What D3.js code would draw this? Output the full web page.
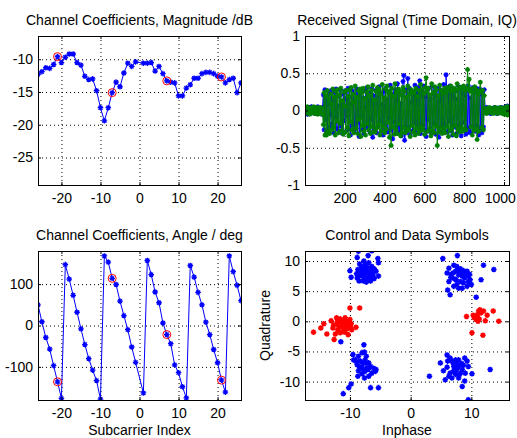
<!DOCTYPE html>
<html>
<head>
<meta charset="utf-8">
<script src="https://cdn.jsdelivr.net/npm/d3@7"></script>
<style>
  body { margin: 0; background: #fff; }
  svg { display: block; }
</style>
</head>
<body>
<svg id="chart" width="517" height="438"></svg>
<script>
// ---- data ----
const subcarriers = [
  -26, -25, -24, -23, -22, -21, -20, -19, -18, -17, -16, -15, -14, -13, -12, -11, -10, -9, -8, -7, -6, -5, -4, -3, -2, -1,
  1, 2, 3, 4, 5, 6, 7, 8, 9, 10, 11, 12, 13, 14, 15, 16, 17, 18, 19, 20, 21, 22, 23, 24, 25, 26
];
const pilotCarriers = [-21, -7, 7, 21];

const magnitudeDb = [
  -12.3, -11.9, -11.3, -11.4, -10.8, -9.6, -10.5, -9.7, -9.2, -9.2, -10.5, -10.9, -12.6, -13.1, -13.0, -14.8, -17.4, -19.4, -17.4, -15.1, -13.5, -14.2, -12.1, -10.6, -11.1, -10.4,
  -10.6, -10.6, -10.5, -11.8, -11.1, -12.2, -13.3, -13.5, -13.6, -15.6, -15.6, -14.4, -13.9, -12.9, -12.9, -12.2, -12.0, -12.0, -12.2, -12.6, -12.7, -13.6, -13.1, -12.9, -15.1, -13.6
];

const angleDeg = [
  50, 9, -29, -57, -97, -136, -176, 147, 112, 73, 32, -8, -46, -80, -108, -133, -178, 168, 153, 114, 99, 59, 24, -10, -52, -89,
  -163, 157, 123, 81, 55, 6, -22, -44, -95, -114, -148, -175, 145, 117, 80, 50, 8, -22, -58, -90, -132, -161, 168, 130, 97, 60
];

// time domain samples, every 4th sample (index 1, 5, 9, ... 1025)
const sampleStep = 4;
const signalI = [
  // quiet start
  0.03, -0.04, 0.02, -0.05, 0.04, -0.01, 0.03, -0.04, 0.05, -0.02, 0.03, -0.03, 0.01, -0.04, 0.04, -0.02, 0.05, -0.03, 0.02, -0.04, 0.03, -0.05, 0.04,
  // burst
  0.21, -0.26, 0.28, -0.12, 0.17, -0.29, 0.08, 0.25, -0.22, -0.05,
  0.27, -0.18, 0.13, -0.30, 0.24, -0.09, 0.29, -0.24, 0.06, -0.27,
  0.19, 0.28, -0.21, 0.11, -0.31, 0.22, -0.14, 0.26, -0.28, 0.15,
  -0.07, 0.30, -0.25, 0.18, -0.33, 0.09, 0.27, -0.20, 0.23, -0.29,
  0.12, -0.24, 0.29, -0.16, 0.21, -0.35, 0.25, -0.08, 0.28, -0.26,
  0.17, -0.31, 0.04, 0.26, -0.23, 0.31, -0.19, 0.14, -0.28, 0.24,
  -0.12, 0.29, -0.36, 0.20, -0.25, 0.10, 0.27, -0.30, 0.18, -0.21,
  0.32, -0.14, 0.23, -0.27, 0.08, -0.33, 0.26, -0.18, 0.30, -0.24,
  0.15, -0.29, 0.24, -0.10, 0.34, -0.26, 0.19, -0.38, 0.22, -0.15,
  0.28, -0.31, 0.13, 0.36, -0.22, 0.26, -0.28, 0.09, -0.34, 0.21,
  0.39, 0.47, -0.40, -0.30, 0.28, -0.30, 0.43, -0.22, 0.30, -0.33,
  0.11, 0.26, -0.27, 0.20, -0.16, 0.34, -0.29, 0.24, -0.19, 0.31,
  -0.23, 0.40, -0.31, 0.27, 0.20, -0.20, 0.33, -0.26, 0.18, -0.35,
  0.25, -0.12, 0.29, -0.28, 0.16, -0.24, 0.32, -0.30, 0.22, -0.17,
  0.27, -0.32, 0.19, -0.21, 0.30, -0.36, 0.12, 0.28, -0.26, 0.23,
  -0.30, 0.35, -0.18, -0.28, 0.48, 0.27, -0.29, 0.21, -0.14, 0.33,
  -0.27, 0.24, -0.33, 0.18, 0.29, -0.22, 0.26, -0.31, 0.15, -0.25,
  0.32, -0.19, 0.28, -0.34, 0.23, -0.16, 0.30, -0.27, 0.20, -0.32,
  0.26, -0.23, 0.33, -0.29, 0.17, -0.30, 0.27, -0.21, 0.31, -0.26,
  0.24, -0.28, 0.30, -0.20, 0.25, -0.33, 0.29, -0.24, 0.22, -0.30,
  0.27, -0.22, 0.28,
  // quiet end
  0.02, -0.03, 0.04, -0.02, 0.01, -0.03, 0.03, -0.04, 0.02, -0.02, 0.03, -0.01, 0.04, -0.03, 0.02, -0.04,
  0.03, -0.02, 0.01, -0.03, 0.04, -0.02, 0.03, -0.03, 0.02, -0.04, 0.05, -0.03, 0.06, -0.05, 0.04
];
const signalQ = [
  -0.02, 0.04, -0.03, 0.05, -0.04, 0.02, -0.05, 0.03, -0.02, 0.04, -0.03, 0.05, -0.04, 0.02, -0.03, 0.04, -0.05, 0.03, -0.02, 0.04, -0.04, 0.03, -0.05,
  -0.19, 0.24, -0.33, 0.20, -0.33, 0.27, -0.28, 0.16, -0.31, 0.22,
  0.09, -0.26, 0.29, -0.22, 0.18, -0.33, 0.26, -0.14, 0.28, -0.30,
  0.21, -0.17, 0.30, -0.27, 0.13, -0.32, 0.25, 0.06, -0.29, 0.27,
  -0.23, 0.19, -0.34, 0.28, -0.15, 0.31, -0.26, 0.22, -0.30, 0.11,
  0.33, -0.24, 0.18, -0.31, 0.27, -0.12, 0.29, -0.35, 0.24, -0.20,
  0.30, -0.28, 0.16, -0.33, 0.25, -0.18, 0.32, -0.26, 0.20, -0.31,
  0.27, -0.22, 0.34, -0.29, 0.14, -0.29, 0.26, -0.24, 0.31, -0.19,
  0.28, -0.33, 0.22, -0.27, 0.35, -0.21, 0.17, -0.30, 0.29, -0.25,
  0.33, -0.16, 0.26, -0.36, 0.23, -0.47, 0.30, -0.22, 0.19, -0.32,
  0.36, -0.26, 0.24, -0.31, 0.29, -0.18, 0.27, -0.34, 0.21, -0.29,
  0.31, -0.23, 0.26, -0.30, 0.18, -0.27, 0.33, -0.25, 0.22, -0.35,
  0.28, -0.20, 0.24, -0.29, 0.25, -0.33, 0.30, -0.24, 0.19, -0.31,
  0.27, -0.28, 0.35, -0.22, 0.29, -0.26, 0.23, -0.32, 0.31, 0.44,
  0.26, -0.28, 0.30, -0.25, 0.21, -0.34, 0.36, -0.27, 0.24, -0.30,
  0.32, -0.21, 0.28, -0.47, 0.20, -0.29, 0.34, -0.24, 0.27, -0.31,
  0.23, -0.26, 0.30, -0.30, 0.25, -0.22, 0.31, -0.35, 0.29, -0.27,
  0.33, -0.24, 0.26, -0.32, 0.30, -0.20, 0.28, -0.34, 0.36, -0.25,
  0.29, -0.29, 0.31, -0.23, 0.31, -0.28, 0.33, -0.26, 0.27, -0.26,
  0.30, 0.55, 0.28, 0.42, 0.26, -0.22, 0.29, -0.33, 0.24, -0.27,
  0.32, -0.25, 0.28, -0.39, 0.22, -0.28, 0.26, 0.38, 0.25, -0.23,
  0.27, -0.26, 0.20,
  -0.03, 0.02, -0.04, 0.03, -0.02, 0.04, -0.01, 0.03, -0.03, 0.02, -0.04, 0.03, -0.02, 0.04, -0.03, 0.01,
  -0.04, 0.03, -0.02, 0.04, -0.03, 0.02, -0.04, 0.03, -0.05, 0.04, -0.03, 0.05, -0.06, 0.05, -0.04
];

// control symbols (red) and data symbols (blue)
const controlI = [
  -16.0, -14.8, -14.3, -13.8, -13.1, -12.8, -12.6, -12.4, -12.2, -12.0, -11.8, -11.7, -11.6, -11.3, -11.1, -11.0, -10.9, -10.8, -10.6,
  -10.5, -10.3, -10.2, -10.0, -10.0, -9.9, -9.8, -9.7, -9.0, -8.4, -12.7, -12.1, -12.0, -10.8, -10.4, -11.1, -11.6, -11.4, -10.9,
  9.2, 10.1, 10.3, 10.5, 10.8, 10.9, 11.1, 11.2, 11.4, 11.6, 11.9, 12.0, 12.3, 12.6, 13.6, 14.5, 11.3, 11.0
];
const controlQ = [
  -1.8, -1.1, -0.4, -2.1, 0.1, -1.1, -3.0, -2.1, 0.6, -0.6, 0.0, -1.0, 0.4, -0.6, -0.3, -1.1, 0.1, -1.8, -0.8,
  -0.1, -2.2, -0.6, 2.2, 0.3, -1.0, -0.4, -1.4, -1.0, 2.2, -0.6, -0.1, -1.4, 0.6, -1.2, -1.7, -1.9, -0.1, -0.8,
  0.8, -1.9, 1.0, 0.6, 0.3, 0.7, 0.0, 1.7, 1.9, 1.4, -2.3, 1.7, 0.1, 1.0, 1.7, 0.0, 0.4, 1.1
];
const dataI = [
  -8.6, -6.4, -8.8, -7.0, -5.4, -5.3, -7.7, -8.4, -7.5, -6.9, -6.4, -6.0, -8.0, -8.7, -8.3, -7.7, -7.2, -6.6, -6.2, -5.7,
  -5.3, -8.6, -8.0, -7.5, -6.9, -6.4, -7.8, -7.3, -6.6, -6.0, -10.0, -9.8, -8.8, -8.2, -7.5, -6.9, -7.6, -8.5,
  -7.9, -7.2, -6.8, -8.1, -7.4, -6.5, -8.4, -7.0, -7.6, -6.3, -8.9, -7.1,
  -7.7, -9.5, -9.1, -8.6, -8.0, -7.6, -8.3, -7.5, -6.9, -8.8, -8.0, -7.2, -6.6, -6.1, -5.7, -6.4, -7.5, -8.0, -8.6, -6.9,
  -7.6, -9.8, -10.2, -11.1, -6.6, -5.3, -9.4, -7.3, -5.8, -8.7, -11.5,
  -7.9, -8.4, -7.0, -7.8, -8.9, -7.3,
  5.3, 7.7, 12.0, 13.7, 11.6, 10.8, 6.3, 7.1, 7.6, 8.2, 8.7, 9.3, 9.5, 6.0, 6.7, 7.4, 7.9, 8.5, 8.9, 9.5,
  10.0, 6.8, 7.5, 8.2, 8.7, 6.3, 7.1, 6.5, 6.1, 7.6, 9.3, 7.9, 8.5, 9.8, 9.7,
  7.0, 7.8, 8.3, 6.6, 7.3, 8.0, 8.8,
  6.0, 6.5, 4.9, 5.4, 6.1, 6.8, 7.4, 7.9, 8.2, 8.9, 9.3, 9.5, 7.1, 7.6, 8.5, 9.0, 7.4, 7.9, 6.5, 6.8,
  5.7, 8.9, 8.5, 9.5, 3.1, 10.1, 13.1, 7.6, 8.2, 7.1, 6.0, 8.7, 6.3,
  7.0, 7.8, 8.4, 7.3, 8.0
];
const dataQ = [
  11.6, 11.7, 10.6, 10.9, 10.4, 9.7, 10.0, 9.5, 9.3, 9.7, 9.1, 8.7, 8.8, 8.6, 8.2, 8.4, 8.3, 8.0, 7.7, 8.3,
  7.5, 7.6, 7.5, 7.2, 7.5, 7.2, 6.7, 6.5, 6.7, 7.1, 8.4, 7.3, 7.2, 7.8, 7.8, 8.8, 8.9, 6.7,
  8.0, 8.9, 7.8, 9.1, 7.6, 8.5, 7.9, 8.1, 8.5, 8.2, 7.9, 7.0,
  -3.9, -5.5, -6.4, -5.8, -5.2, -5.1, -6.6, -6.4, -6.9, -7.2, -7.6, -7.7, -7.5, -7.8, -8.0, -8.6, -8.3, -8.7, -8.2, -9.1,
  -9.4, -10.4, -11.0, -12.0, -11.0, -11.0, -6.4, -5.8, -8.3, -9.1, -3.4,
  -7.0, -7.6, -8.0, -8.0, -6.8, -6.9,
  10.4, 10.9, 9.3, 8.6, 6.9, 4.0, 8.8, 9.3, 9.1, 8.7, 8.4, 8.3, 7.5, 8.0, 7.8, 8.3, 7.7, 7.5, 7.2, 6.6,
  6.1, 7.2, 6.9, 6.6, 6.4, 6.6, 5.8, 4.4, 5.2, 6.1, 5.8, 5.5, 5.5, 6.9, 7.8,
  8.0, 8.6, 7.9, 7.3, 7.0, 8.1, 7.9,
  -5.6, -6.1, -6.9, -8.2, -6.6, -6.6, -6.4, -6.4, -7.2, -6.1, -6.6, -7.5, -7.5, -8.0, -8.0, -8.6, -8.8, -9.4, -8.6, -9.4,
  -9.7, -9.9, -10.8, -13.0, -9.1, -8.7, -8.0, -7.1, -8.6, -8.2, -7.6, -7.3, -9.1,
  -6.9, -7.6, -7.0, -8.4, -8.9
];

// axis ticks
const carrierTicks = [-20, -10, 0, 10, 20];
const magTicks = [-25, -20, -15, -10];
const angleTicks = [-100, 0, 100];
const sampleTicks = [200, 400, 600, 800, 1000];
const ampTicks = [-1, -0.5, 0, 0.5, 1];
const iqTicksX = [-10, 0, 10];
const iqTicksY = [-10, -5, 0, 5, 10];

// ---- drawing ----
const FONT = '"Liberation Sans", Arial, Helvetica, sans-serif';
const FONT_SIZE = 14;
const COLS = [[38, 241], [305, 509]];
const ROWS = [[36, 185], [251, 400]];
const BLUE = '#0000ff', GREEN = '#008000', RED = '#ff0000';

const svg = d3.select('#chart');
svg.append('rect').attr('width', 517).attr('height', 438).attr('fill', '#fff');
const defs = svg.append('defs');
let clipCount = 0;

function asterisk(r) {
  const s = r * 0.7;
  return `M${-r},0H${r}M0,${-r}V${r}M${-s},${-s}L${s},${s}M${-s},${s}L${s},${-s}`;
}

function panel(col, row, xDomain, yDomain, xTicks, yTicks) {
  const [x0, x1] = COLS[col];
  const [y0, y1] = ROWS[row];
  const x = d3.scaleLinear().domain(xDomain).range([x0, x1]);
  const y = d3.scaleLinear().domain(yDomain).range([y1, y0]);
  const g = svg.append('g');

  // dotted grid under the data
  g.append('g')
    .attr('transform', `translate(0,${y1})`)
    .call(d3.axisBottom(x).tickValues(xTicks).tickSize(-(y1 - y0)).tickFormat(''))
    .call(a => a.select('.domain').remove())
    .selectAll('line')
    .attr('stroke', '#000')
    .attr('stroke-dasharray', '1,3');

  g.append('g')
    .attr('transform', `translate(${x0},0)`)
    .call(d3.axisLeft(y).tickValues(yTicks).tickSize(-(x1 - x0)).tickFormat(''))
    .call(a => a.select('.domain').remove())
    .selectAll('line')
    .attr('stroke', '#000')
    .attr('stroke-dasharray', '1,3');

  const clipId = `clip${clipCount++}`;
  defs.append('clipPath').attr('id', clipId)
    .append('rect')
    .attr('x', x0).attr('y', y0)
    .attr('width', x1 - x0 + 1).attr('height', y1 - y0 + 1);

  const plot = g.append('g').attr('clip-path', `url(#${clipId})`);
  return { x, y, g, plot, x0, x1, y0, y1, xTicks, yTicks };
}

function frame(p, title) {
  const fmt = d => String(d);
  const styleAxis = a => {
    a.select('.domain').remove();
    a.attr('font-size', FONT_SIZE).attr('font-family', FONT);
    a.selectAll('text').attr('fill', '#000');
    a.selectAll('line').attr('stroke', '#000');
  };

  p.g.append('g')
    .attr('transform', `translate(0,${p.y1})`)
    .call(d3.axisBottom(p.x).tickValues(p.xTicks).tickSizeInner(-3).tickSizeOuter(0).tickPadding(8).tickFormat(fmt))
    .call(styleAxis)
    .selectAll('text')
    .each(function() {
      // keep the last label inside the page, like the original
      const over = this.getBoundingClientRect().right - 516;
      if (over > 0) d3.select(this).attr('dx', -over);
    });
  p.g.append('g')
    .attr('transform', `translate(0,${p.y0})`)
    .call(d3.axisTop(p.x).tickValues(p.xTicks).tickSizeInner(-3).tickSizeOuter(0).tickFormat(''))
    .call(styleAxis);
  p.g.append('g')
    .attr('transform', `translate(${p.x0},0)`)
    .call(d3.axisLeft(p.y).tickValues(p.yTicks).tickSizeInner(-3).tickSizeOuter(0).tickPadding(5).tickFormat(fmt))
    .call(styleAxis);
  p.g.append('g')
    .attr('transform', `translate(${p.x1},0)`)
    .call(d3.axisRight(p.y).tickValues(p.yTicks).tickSizeInner(-3).tickSizeOuter(0).tickFormat(''))
    .call(styleAxis);

  p.g.append('rect')
    .attr('x', p.x0 + 0.5).attr('y', p.y0 + 0.5)
    .attr('width', p.x1 - p.x0).attr('height', p.y1 - p.y0)
    .attr('fill', 'none')
    .attr('stroke', '#000');

  p.g.append('text')
    .attr('x', (p.x0 + p.x1) / 2)
    .attr('y', p.y0 - 11)
    .attr('text-anchor', 'middle')
    .attr('font-family', FONT)
    .attr('font-size', FONT_SIZE)
    .text(title);
}

function markers(p, pts, color, r, width) {
  p.plot.append('g')
    .selectAll('path')
    .data(pts)
    .join('path')
    .attr('transform', d => `translate(${p.x(d[0])},${p.y(d[1])})`)
    .attr('d', asterisk(r))
    .attr('fill', 'none')
    .attr('stroke', color)
    .attr('stroke-width', width);
}

function lineWithMarkers(p, xs, ys, color, r) {
  const pts = xs.map((v, i) => [v, ys[i]]);
  p.plot.append('path')
    .datum(pts)
    .attr('fill', 'none')
    .attr('stroke', color)
    .attr('stroke-width', 1)
    .attr('d', d3.line().x(d => p.x(d[0])).y(d => p.y(d[1])));
  markers(p, pts, color, r, 1.3);
}

function pilotCircles(p, values) {
  const pts = pilotCarriers.map(c => [c, values[subcarriers.indexOf(c)]]);
  p.plot.append('g')
    .selectAll('circle')
    .data(pts)
    .join('circle')
    .attr('cx', d => p.x(d[0]))
    .attr('cy', d => p.y(d[1]))
    .attr('r', 4)
    .attr('fill', 'none')
    .attr('stroke', RED)
    .attr('stroke-width', 1);
}

// magnitude
const mag = panel(0, 0, [-26, 26], [-29.2, -6.45], carrierTicks, magTicks);
lineWithMarkers(mag, subcarriers, magnitudeDb, BLUE, 2.8);
pilotCircles(mag, magnitudeDb);
frame(mag, 'Channel Coefficients, Magnitude /dB');

// time domain
const sampleIndex = signalI.map((_, k) => 1 + k * sampleStep);
const td = panel(1, 0, [1, 1025], [-1, 1], sampleTicks, ampTicks);
lineWithMarkers(td, sampleIndex, signalI, BLUE, 2.5);
lineWithMarkers(td, sampleIndex, signalQ, GREEN, 2.5);
frame(td, 'Received Signal (Time Domain, IQ)');

// angle
const ang = panel(0, 1, [-26, 26], [-180, 180], carrierTicks, angleTicks);
lineWithMarkers(ang, subcarriers, angleDeg, BLUE, 2.8);
pilotCircles(ang, angleDeg);
frame(ang, 'Channel Coefficients, Angle / deg');

// constellation
const iq = panel(1, 1, [-17.4, 16.2], [-13.05, 11.66], iqTicksX, iqTicksY);
markers(iq, dataI.map((v, i) => [v, dataQ[i]]), BLUE, 2.8, 1.5);
markers(iq, controlI.map((v, i) => [v, controlQ[i]]), RED, 2.8, 1.5);
frame(iq, 'Control and Data Symbols');

// axis labels
svg.append('text')
  .attr('x', (COLS[0][0] + COLS[0][1]) / 2)
  .attr('y', 435)
  .attr('text-anchor', 'middle')
  .attr('font-family', FONT)
  .attr('font-size', FONT_SIZE)
  .text('Subcarrier Index');

svg.append('text')
  .attr('x', (COLS[1][0] + COLS[1][1]) / 2)
  .attr('y', 435)
  .attr('text-anchor', 'middle')
  .attr('font-family', FONT)
  .attr('font-size', FONT_SIZE)
  .text('Inphase');

svg.append('text')
  .attr('transform', `translate(270,${(ROWS[1][0] + ROWS[1][1]) / 2}) rotate(-90)`)
  .attr('text-anchor', 'middle')
  .attr('font-family', FONT)
  .attr('font-size', FONT_SIZE)
  .text('Quadrature');
</script>
</body>
</html>
